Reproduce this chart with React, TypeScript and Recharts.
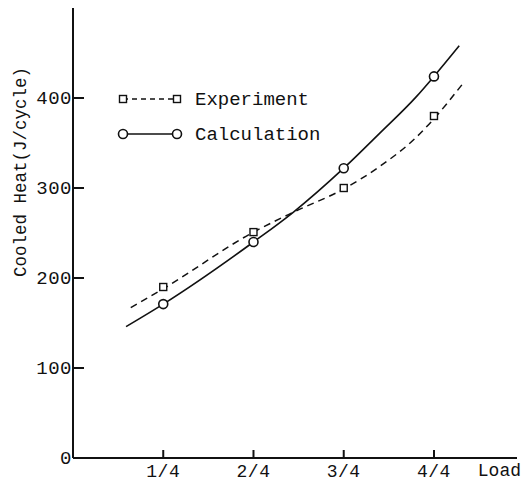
import { ComposedChart, Line, Scatter, XAxis, YAxis } from "recharts";

document.body.style.margin = "0";

// measured points
const LOADS = [0.25, 0.5, 0.75, 1];
const LOAD_LABELS = ["1/4", "2/4", "3/4", "4/4"];
const EXPERIMENT = [190, 251, 300, 380];
const CALCULATION = [171, 240, 322, 424];

// fitted curves
const EXP_CURVE_X = [0.16, 0.25, 0.5, 0.61, 0.75, 0.85, 0.95, 1.0, 1.08];
const EXP_CURVE_Y = [167, 188, 251, 273, 299, 324, 356, 377, 416];
const CALC_CURVE_X = [0.147, 0.25, 0.5, 0.61, 0.75, 0.85, 0.95, 1.0, 1.07];
const CALC_CURVE_Y = [146, 171, 240, 273, 322, 361, 401, 424, 458];

const Y_TICKS = [0, 100, 200, 300, 400];

const FONT = "'Liberation Mono', 'DejaVu Sans Mono', monospace";
const INK = "#111";

const toPts = (xs: number[], ys: number[]) => xs.map((x, i) => ({ x, y: ys[i] }));
const expPoints = toPts(LOADS, EXPERIMENT);
const calcPoints = toPts(LOADS, CALCULATION);
const expCurve = toPts(EXP_CURVE_X, EXP_CURVE_Y);
const calcCurve = toPts(CALC_CURVE_X, CALC_CURVE_Y);

function SquareMark({ cx, cy }: any) {
  return <rect x={cx - 3.5} y={cy - 3.5} width={7} height={7} fill="#fff" stroke={INK} strokeWidth={1.4} />;
}

function CircleMark({ cx, cy }: any) {
  return <circle cx={cx} cy={cy} r={4.5} fill="#fff" stroke={INK} strokeWidth={1.6} />;
}

function YTick({ x, y, payload }: any) {
  return (
    <g>
      {payload.value !== 0 && <line x1={x} x2={x + 11} y1={y} y2={y} stroke={INK} strokeWidth={2} />}
      <text x={x - 1} y={y} dy={6} textAnchor="end" fontFamily={FONT} fontSize={19} letterSpacing={0.5} fill={INK}>
        {payload.value}
      </text>
    </g>
  );
}

function XTick({ x, y, payload, index }: any) {
  return (
    <g>
      <line x1={x} x2={x} y1={y} y2={y - 8} stroke={INK} strokeWidth={2} />
      <text x={x} y={y + 19} textAnchor="middle" fontFamily={FONT} fontSize={18} letterSpacing={0.5} fill={INK}>
        {LOAD_LABELS[index] ?? payload.value}
      </text>
    </g>
  );
}

function LegendBox() {
  return (
    <svg width={260} height={60} style={{ position: "absolute", left: 73, top: 89 }}>
      <line x1={50} x2={104} y1={10} y2={10} stroke={INK} strokeWidth={1.3} strokeDasharray="5 4" />
      <SquareMark cx={50} cy={10} />
      <SquareMark cx={104} cy={10} />
      <text x={122} y={16} fontFamily={FONT} fontSize={19} fill={INK}>Experiment</text>
      <line x1={50} x2={104} y1={45} y2={45} stroke={INK} strokeWidth={1.3} />
      <CircleMark cx={50} cy={45} />
      <CircleMark cx={104} cy={45} />
      <text x={122} y={51} fontFamily={FONT} fontSize={19} fill={INK}>Calculation</text>
    </svg>
  );
}

export default function App() {
  return (
    <div style={{ width: 521, height: 481, background: "#fff", position: "relative" }}>
      <ComposedChart width={521} height={481} margin={{ top: 8, right: 4, left: 0, bottom: 0 }}>
        <XAxis
          type="number"
          dataKey="x"
          domain={[0, 1.23]}
          ticks={LOADS}
          height={23}
          tickSize={0}
          tickMargin={0}
          tickLine={false}
          tick={<XTick />}
          axisLine={{ stroke: INK, strokeWidth: 2 }}
          allowDataOverflow
        />
        <YAxis
          type="number"
          domain={[0, 500]}
          ticks={Y_TICKS}
          width={73}
          tickSize={0}
          tickMargin={0}
          tickLine={false}
          tick={<YTick />}
          axisLine={{ stroke: INK, strokeWidth: 2 }}
          allowDataOverflow
        />
        <Line
          data={expCurve}
          dataKey="y"
          type="monotone"
          stroke={INK}
          strokeWidth={1.5}
          strokeDasharray="7 5"
          dot={false}
          activeDot={false}
          isAnimationActive={false}
        />
        <Line
          data={calcCurve}
          dataKey="y"
          type="monotone"
          stroke={INK}
          strokeWidth={1.6}
          dot={false}
          activeDot={false}
          isAnimationActive={false}
        />
        <Scatter data={expPoints} dataKey="y" shape={<SquareMark />} isAnimationActive={false} />
        <Scatter data={calcPoints} dataKey="y" shape={<CircleMark />} isAnimationActive={false} />
      </ComposedChart>
      <LegendBox />
      <svg width={40} height={481} style={{ position: "absolute", left: 0, top: 0 }}>
        <text
          transform="translate(26,172) rotate(-90)"
          textAnchor="middle"
          fontFamily={FONT}
          fontSize={17.5}
          fill={INK}
        >
          Cooled Heat(J/cycle)
        </text>
      </svg>
      <svg width={50} height={30} style={{ position: "absolute", left: 471, top: 452 }}>
        <text x={50} y={24} textAnchor="end" fontFamily={FONT} fontSize={18} fill={INK}>Load</text>
      </svg>
    </div>
  );
}
